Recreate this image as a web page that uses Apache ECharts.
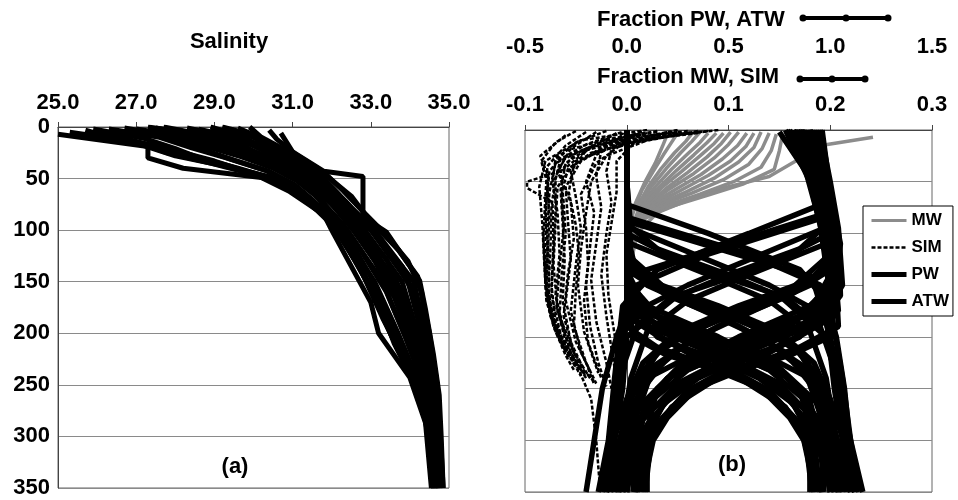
<!DOCTYPE html>
<html lang="en">
<head>
  <meta charset="UTF-8">
  <title>Salinity and water fractions</title>
  <script src="https://cdn.jsdelivr.net/npm/echarts@6/dist/echarts.min.js"></script>
  <style>
    html, body { margin: 0; padding: 0; background: #fff; }
    #chart { width: 958px; height: 500px; }
  </style>
</head>
<body>
<div id="chart"></div>
<script>
  // depth ticks shared by both panels (m)
  let depthTicks = [0, 50, 100, 150, 200, 250, 300, 350];
  let fractionNames = ['MW', 'SIM', 'PW', 'ATW'];

  // (a) salinity profiles, pairs of [salinity, depth]
  let salinityProfiles = [
    [[25.0,7],[27.3,19],[27.3,30],[28.2,40],[30.2,49],[30.9,62],[31.8,85],[32.0,100],[33.0,170],[33.2,200],[34.0,243],[34.4,287],[34.55,350]],
    [[25.7,3],[26.5,12],[27.2,18],[28.0,28],[29.3,38],[30.6,50],[31.3,68],[31.9,88],[32.3,110],[32.9,150],[33.5,200],[34.15,250],[34.5,300],[34.6,350]],
    [[26.3,2],[27.6,10],[28.4,20],[29.3,30],[30.3,42],[31.0,55],[31.6,75],[32.2,100],[33.1,150],[33.7,200],[34.25,250],[34.55,300],[34.65,350]],
    [[27.0,2],[28.3,10],[29.2,20],[30.0,30],[30.8,42],[31.3,55],[31.8,75],[32.4,100],[33.3,150],[33.85,200],[34.35,250],[34.6,300],[34.68,350]],
    [[27.7,0],[28.8,8],[29.7,18],[30.4,30],[31.0,42],[31.5,55],[32.0,75],[32.55,100],[33.5,150],[34.0,200],[34.4,250],[34.62,300],[34.7,350]],
    [[28.3,1],[29.2,8],[30.0,18],[30.7,30],[31.2,42],[31.6,55],[32.1,75],[32.7,100],[33.65,150],[34.1,200],[34.45,250],[34.65,300],[34.72,350]],
    [[28.9,0],[29.6,8],[30.3,20],[30.9,32],[31.4,45],[31.8,58],[32.25,75],[32.85,100],[33.8,150],[34.2,200],[34.5,250],[34.68,300],[34.75,350]],
    [[29.4,2],[30.0,10],[30.6,22],[31.1,34],[31.5,45],[31.9,58],[32.4,78],[33.0,100],[33.95,150],[34.3,200],[34.55,250],[34.7,300],[34.78,350]],
    [[29.9,0],[30.2,10],[30.8,22],[31.3,35],[31.7,46],[32.0,58],[32.5,78],[33.1,100],[34.1,150],[34.4,200],[34.6,250],[34.72,300],[34.8,350]],
    [[30.0,4],[30.2,14],[30.9,24],[31.7,42],[32.5,67],[32.9,87],[33.7,119],[34.2,145],[34.5,200],[34.7,250],[34.78,300],[34.85,350]],
    [[30.7,6],[31.0,24],[31.8,43],[32.8,48],[32.8,87],[33.4,102],[34.25,149],[34.4,177],[34.6,220],[34.75,260],[34.8,300],[34.85,350]],
    [[28.0,3],[29.0,12],[29.9,24],[30.6,36],[31.2,50],[31.7,65],[32.3,85],[32.6,100],[33.2,130],[33.55,150],[33.95,190],[34.35,235],[34.55,280],[34.65,350]],
    [[29.0,3],[29.8,14],[30.5,28],[31.1,40],[31.6,52],[32.0,68],[32.5,88],[32.95,110],[33.75,160],[34.15,210],[34.5,260],[34.68,310],[34.74,350]],
    [[26.0,5],[27.0,14],[28.1,24],[29.0,33],[29.9,44],[30.8,54],[31.4,70],[32.05,95],[32.6,130],[33.2,170],[33.6,210],[34.2,255],[34.5,300],[34.6,350]],
    [[25.3,5],[26.0,9],[27.1,16],[27.8,25],[28.9,35],[30.0,46],[31.0,60],[31.6,80],[32.15,100],[32.8,140],[33.35,180],[33.8,220],[34.3,262],[34.52,300],[34.6,350]],
    [[26.7,1],[27.9,9],[28.8,19],[29.7,29],[30.5,40],[31.1,52],[31.7,70],[32.3,95],[32.75,120],[33.4,160],[33.9,205],[34.3,245],[34.58,290],[34.66,350]],
    [[27.3,0],[28.6,7],[29.5,18],[30.3,29],[31.0,40],[31.5,53],[32.0,72],[32.5,97],[33.1,130],[33.6,165],[34.05,210],[34.42,255],[34.62,300],[34.7,350]],
    [[28.6,2],[29.4,9],[30.1,19],[30.8,31],[31.3,43],[31.75,57],[32.2,75],[32.75,98],[33.4,128],[33.9,170],[34.25,215],[34.52,262],[34.68,305],[34.74,350]],
    [[29.6,1],[30.1,9],[30.7,21],[31.2,34],[31.6,45],[32.0,60],[32.55,82],[33.2,108],[33.8,135],[34.2,170],[34.45,215],[34.65,265],[34.75,310],[34.8,350]],
    [[30.4,3],[30.6,12],[31.1,27],[31.8,44],[32.3,62],[32.8,82],[33.4,105],[33.95,130],[34.3,160],[34.5,210],[34.68,260],[34.76,300],[34.82,350]],
    [[25.9,2],[27.2,11],[28.0,21],[28.6,30],[29.6,40],[30.5,50],[31.2,65],[31.7,80],[32.1,100],[32.7,135],[33.3,185],[33.9,230],[34.35,275],[34.56,320],[34.62,350]],
    [[27.5,1],[28.1,5],[28.9,14],[29.8,25],[30.6,37],[31.3,50],[31.85,66],[32.35,88],[32.9,115],[33.55,145],[34.0,185],[34.35,228],[34.58,275],[34.7,330],[34.72,350]],
    [[26.9,3],[28.0,12],[28.7,22],[29.5,32],[30.4,43],[31.05,56],[31.55,72],[32.15,92],[32.55,115],[33.0,145],[33.45,190],[34.1,240],[34.45,285],[34.62,350]],
    [[29.2,0],[29.9,7],[30.5,18],[31.0,30],[31.45,42],[31.9,56],[32.35,72],[32.9,95],[33.55,125],[34.05,158],[34.35,200],[34.58,245],[34.72,295],[34.78,350]]
  ];

  // (b) meteoric water fraction, [fraction, depth]
  let mwProfiles = [
    [[0.242,7],[0.197,14],[0.175,25],[0.14,45],[0.08,60],[0.03,80],[0.01,100],[0.0,150]],
    [[0.153,5],[0.15,20],[0.145,38],[0.115,52],[0.08,63],[0.04,75],[0.013,88],[0.004,110],[0.0,150]],
    [[0.147,4],[0.142,20],[0.132,36],[0.105,50],[0.072,62],[0.036,74],[0.012,87],[0.003,115]],
    [[0.14,3],[0.133,18],[0.12,33],[0.095,48],[0.064,61],[0.032,73],[0.01,88],[0.003,120]],
    [[0.132,2],[0.125,17],[0.11,31],[0.087,46],[0.058,60],[0.028,73],[0.009,90]],
    [[0.125,3],[0.117,16],[0.102,30],[0.08,44],[0.052,59],[0.025,73],[0.008,92]],
    [[0.118,3],[0.109,15],[0.094,28],[0.073,43],[0.047,58],[0.022,73],[0.007,94]],
    [[0.11,2],[0.1,14],[0.086,27],[0.066,42],[0.042,57],[0.02,73],[0.006,95]],
    [[0.102,2],[0.093,13],[0.079,26],[0.06,41],[0.038,57],[0.018,74],[0.005,98]],
    [[0.095,3],[0.086,13],[0.072,25],[0.054,40],[0.034,56],[0.016,74],[0.005,100]],
    [[0.088,3],[0.079,12],[0.066,24],[0.049,39],[0.031,56],[0.014,75],[0.004,100]],
    [[0.08,3],[0.072,12],[0.06,23],[0.044,38],[0.028,55],[0.012,75],[0.004,100]],
    [[0.072,2],[0.064,11],[0.053,22],[0.039,37],[0.024,55],[0.01,76]],
    [[0.065,2],[0.058,11],[0.047,22],[0.034,37],[0.021,55],[0.009,77]],
    [[0.05,3],[0.044,12],[0.036,24],[0.026,40],[0.015,58],[0.006,80]],
    [[0.04,4],[0.035,16],[0.028,32],[0.018,50],[0.008,72],[0.003,95]]
  ];

  // (b) sea ice melt fraction, [fraction, depth]
  let simProfiles = [
    [[0.06,1],[0.0,8],[-0.04,18],[-0.07,32],[-0.076,60],[-0.078,100],[-0.079,150],[-0.07,190],[-0.05,225],[-0.035,260],[-0.03,300],[-0.026,350]],
    [[0.03,2],[-0.03,12],[-0.063,39],[-0.098,50],[-0.098,56],[-0.073,70],[-0.072,110],[-0.074,160],[-0.063,206],[-0.043,232],[-0.03,245]],
    [[0.09,0],[0.04,6],[-0.01,15],[-0.05,30],[-0.068,55],[-0.07,90],[-0.072,130],[-0.068,175],[-0.055,215],[-0.04,240]],
    [[-0.02,1],[-0.05,12],[-0.07,28],[-0.073,50],[-0.068,80],[-0.066,120],[-0.07,160],[-0.06,200],[-0.045,228]],
    [[0.02,3],[-0.02,14],[-0.045,30],[-0.06,55],[-0.058,85],[-0.055,125],[-0.06,165],[-0.05,205],[-0.035,235]],
    [[0.07,1],[0.02,10],[-0.02,25],[-0.035,50],[-0.04,80],[-0.045,115],[-0.048,150],[-0.042,195],[-0.028,235]],
    [[-0.04,2],[-0.06,15],[-0.078,35],[-0.08,65],[-0.082,105],[-0.08,145],[-0.074,180],[-0.06,215]],
    [[0.0,2],[-0.025,20],[-0.03,45],[-0.025,75],[-0.03,110],[-0.035,145],[-0.03,185],[-0.02,225],[-0.015,250]],
    [[0.05,0],[-0.01,12],[-0.05,22],[-0.065,40],[-0.062,70],[-0.06,100],[-0.064,140],[-0.066,180],[-0.05,220]],
    [[-0.01,3],[-0.04,20],[-0.055,40],[-0.05,65],[-0.045,95],[-0.05,130],[-0.055,175],[-0.045,215],[-0.03,245]],
    [[0.04,2],[-0.015,18],[-0.02,40],[-0.015,70],[-0.02,100],[-0.025,140],[-0.02,180],[-0.012,230]],
    [[-0.06,5],[-0.085,25],[-0.077,45],[-0.08,80],[-0.077,120],[-0.076,170],[-0.066,200],[-0.05,230]],
    [[0.08,1],[0.03,6],[-0.03,14],[-0.06,26],[-0.07,45],[-0.074,75],[-0.075,115],[-0.077,155],[-0.072,185],[-0.058,215],[-0.04,238]],
    [[0.015,2],[-0.035,16],[-0.06,32],[-0.065,58],[-0.063,90],[-0.061,125],[-0.063,165],[-0.055,205],[-0.042,232]],
    [[-0.03,2],[-0.055,18],[-0.068,40],[-0.055,70],[-0.052,105],[-0.058,140],[-0.062,180],[-0.052,215],[-0.036,240]],
    [[0.05,2],[-0.005,14],[-0.03,32],[-0.045,62],[-0.04,95],[-0.038,130],[-0.042,165],[-0.038,205],[-0.025,240]],
    [[0.02,0],[-0.045,10],[-0.08,30],[-0.086,55],[-0.083,90],[-0.081,130],[-0.079,165],[-0.07,195],[-0.056,222]],
    [[0.07,3],[0.01,10],[-0.01,30],[-0.01,60],[-0.015,90],[-0.02,120],[-0.018,160],[-0.01,210]],
    [[0.03,1],[-0.02,9],[-0.06,20],[-0.076,40],[-0.079,70],[-0.08,110],[-0.08,150],[-0.075,180],[-0.065,205],[-0.048,230]],
    [[-0.005,2],[-0.04,14],[-0.065,28],[-0.07,48],[-0.07,78],[-0.072,115],[-0.074,150],[-0.07,185],[-0.058,215],[-0.045,238]],
    [[0.06,3],[0.01,12],[-0.035,22],[-0.058,38],[-0.064,62],[-0.062,95],[-0.066,132],[-0.069,170],[-0.06,205],[-0.047,232]],
    [[-0.05,1],[-0.07,12],[-0.084,30],[-0.078,52],[-0.076,85],[-0.078,125],[-0.079,160],[-0.072,190],[-0.06,218],[-0.052,232]],
    [[0.01,4],[-0.03,24],[-0.04,50],[-0.032,80],[-0.036,112],[-0.04,150],[-0.036,190],[-0.028,225],[-0.02,248]],
    [[0.045,2],[-0.02,16],[-0.052,34],[-0.057,60],[-0.05,92],[-0.047,120],[-0.05,155],[-0.052,190],[-0.04,225],[-0.032,246]]
  ];

  // (b) Pacific water fraction, [fraction, depth]
  let pwProfiles = [
    [[0.95,0],[0.97,40],[0.99,80],[0.02,140],[-0.03,200],[-0.05,250],[-0.08,300],[-0.1,350]],
    [[0.88,2],[0.95,50],[0.97,95],[0.3,150],[0.0,180],[-0.04,250],[-0.06,300],[-0.08,350]],
    [[0.9,2],[0.98,60],[1.0,100],[0.7,130],[0.25,160],[0.0,200],[-0.02,250],[-0.1,350]],
    [[0.8,0],[0.93,45],[0.96,85],[0.4,120],[0.05,150],[-0.05,200],[-0.12,250],[-0.2,350]],
    [[0.84,0],[0.94,40],[0.98,70],[0.6,100],[0.15,135],[-0.02,170],[-0.06,240],[-0.09,300],[-0.14,350]],
    [[0.85,0],[0.93,50],[0.98,100],[1.0,150],[0.95,185],[0.75,210],[0.5,237],[0.34,250],[0.2,278],[0.13,300],[0.1,327],[0.1,350]],
    [[0.78,0],[0.9,50],[0.96,100],[1.0,150],[0.8,190],[0.5,220],[0.25,245],[0.08,280],[0.02,320],[0.0,350]],
    [[0.92,0],[0.97,50],[1.02,100],[1.03,150],[0.9,170],[0.55,200],[0.25,230],[0.05,270],[-0.02,320],[-0.05,350]],
    [[0.75,2],[0.88,40],[0.95,90],[1.0,160],[0.85,200],[0.55,225],[0.3,252],[0.12,290],[0.04,350]],
    [[0.96,0],[1.0,60],[1.05,110],[1.02,165],[0.7,195],[0.35,215],[0.1,240],[0.0,290],[-0.06,350]],
    [[0.9,0],[0.96,45],[1.0,120],[0.8,155],[0.5,180],[0.2,205],[0.05,240],[-0.03,300],[-0.08,350]],
    [[0.82,0],[0.92,50],[0.97,100],[1.0,140],[0.9,175],[0.6,205],[0.3,232],[0.12,262],[0.03,300],[-0.02,350]],
    [[0.88,0],[0.94,60],[0.99,110],[1.02,180],[0.8,205],[0.55,222],[0.35,240],[0.18,265],[0.08,300],[0.05,350]],
    [[0.86,0],[0.95,40],[1.0,90],[1.03,130],[0.75,160],[0.4,185],[0.15,215],[0.02,260],[-0.05,310],[-0.1,350]],
    [[0.93,0],[0.97,55],[1.01,105],[1.04,175],[0.7,200],[0.45,225],[0.25,250],[0.1,285],[0.02,330],[0.0,350]],
    [[0.8,2],[0.9,30],[0.96,80],[1.0,125],[0.9,150],[0.62,175],[0.35,200],[0.12,230],[0.0,280],[-0.04,350]],
    [[0.87,0],[0.95,50],[1.0,110],[1.01,170],[0.8,195],[0.5,215],[0.2,240],[0.08,270],[0.06,310],[0.05,350]],
    [[0.91,0],[0.96,50],[1.01,100],[0.95,140],[0.7,165],[0.45,190],[0.22,215],[0.08,250],[0.02,300],[-0.02,350]],
    [[0.83,0],[0.92,40],[0.98,95],[1.02,150],[1.0,200],[0.8,218],[0.5,235],[0.3,252],[0.15,285],[0.08,320],[0.07,350]],
    [[0.89,0],[0.97,60],[1.03,120],[0.9,145],[0.55,170],[0.25,195],[0.08,225],[0.0,260],[-0.08,310],[-0.12,350]],
    [[0.94,0],[0.99,50],[1.04,100],[1.05,160],[0.95,185],[0.65,210],[0.38,232],[0.2,258],[0.1,295],[0.08,350]],
    [[0.79,0],[0.89,35],[0.95,75],[0.98,110],[0.6,140],[0.3,165],[0.1,195],[0.02,240],[-0.03,300],[-0.06,350]],
    [[0.86,0],[0.93,45],[0.99,95],[1.02,150],[0.88,178],[0.6,200],[0.3,225],[0.15,250],[0.1,290],[0.09,350]],
    [[0.9,0],[0.97,50],[0.99,90],[0.85,115],[0.5,140],[0.2,165],[0.05,190],[-0.02,230],[-0.07,290],[-0.11,350]],
    [[0.85,0],[0.94,50],[1.0,105],[1.03,160],[0.85,180],[0.6,198],[0.4,215],[0.2,240],[0.06,280],[-0.04,350]],
    [[0.9,0],[0.96,55],[1.02,115],[1.04,190],[0.85,210],[0.6,228],[0.42,243],[0.22,268],[0.12,300],[0.09,350]],
    [[0.82,0],[0.91,45],[0.97,100],[1.0,135],[0.8,160],[0.55,180],[0.3,205],[0.12,235],[0.04,280],[0.0,350]],
    [[0.95,0],[1.0,50],[1.04,95],[1.06,150],[1.0,170],[0.72,192],[0.45,212],[0.25,232],[0.1,262],[0.05,300],[0.03,350]]
  ];

  // (b) Atlantic water fraction, [fraction, depth]
  let atwProfiles = [
    [[0,0],[0,40],[0,88],[0.91,142],[1.0,200],[1.05,250],[1.1,300],[1.16,350]],
    [[0,2],[0,50],[0.02,95],[0.7,150],[0.98,180],[1.02,250],[1.06,300],[1.08,350]],
    [[0,2],[0,60],[0,100],[0.3,130],[0.75,160],[0.98,200],[1.04,250],[1.1,350]],
    [[0,0],[0,45],[0.01,85],[0.6,120],[0.95,150],[1.03,200],[1.07,250],[1.12,350]],
    [[0,0],[0,40],[0,72],[0.4,100],[0.85,135],[1.0,170],[1.06,240],[1.1,300],[1.14,350]],
    [[0,0],[0,50],[0,100],[0,150],[0.05,185],[0.25,210],[0.5,237],[0.66,250],[0.8,278],[0.87,300],[0.9,327],[0.9,350]],
    [[0,0],[0,50],[0,100],[0.02,150],[0.2,190],[0.5,220],[0.75,245],[0.92,280],[0.97,320],[1.0,350]],
    [[0,0],[0,50],[0,100],[0,150],[0.1,170],[0.45,200],[0.75,230],[0.97,270],[1.02,320],[1.05,350]],
    [[0,2],[0,40],[0,90],[0,160],[0.15,200],[0.45,225],[0.7,252],[0.88,290],[0.96,350]],
    [[0,0],[0,60],[0,110],[0,165],[0.3,195],[0.65,215],[0.9,240],[1.0,290],[1.06,350]],
    [[0,0],[0,45],[0,120],[0.2,155],[0.5,180],[0.8,205],[0.95,240],[1.02,300],[1.1,350]],
    [[0,0],[0,50],[0,100],[0.01,140],[0.1,175],[0.4,205],[0.7,232],[0.88,262],[0.97,300],[1.02,350]],
    [[0,0],[0,60],[0,110],[0,180],[0.2,205],[0.45,222],[0.65,240],[0.82,265],[0.92,300],[0.95,350]],
    [[0,0],[0,40],[0,90],[0,130],[0.25,160],[0.6,185],[0.85,215],[0.98,260],[1.05,310],[1.12,350]],
    [[0,0],[0,55],[0,105],[0,175],[0.3,200],[0.55,225],[0.75,250],[0.9,285],[0.98,330],[1.0,350]],
    [[0,2],[0,30],[0,80],[0,125],[0.1,150],[0.38,175],[0.65,200],[0.88,230],[1.0,280],[1.04,350]],
    [[0,0],[0,50],[0,110],[0.02,170],[0.2,195],[0.5,215],[0.8,240],[0.9,270],[0.92,310],[0.93,350]],
    [[0,0],[0,50],[0,100],[0.05,140],[0.3,165],[0.55,190],[0.78,215],[0.92,250],[0.98,300],[1.02,350]],
    [[0,0],[0,40],[0,95],[0,150],[0.03,200],[0.2,218],[0.5,235],[0.7,252],[0.85,285],[0.9,320],[0.92,350]],
    [[0,0],[0,60],[0,120],[0.1,145],[0.45,170],[0.75,195],[0.92,225],[1.0,260],[1.08,310],[1.12,350]],
    [[0,0],[0,50],[0,100],[0,160],[0.05,185],[0.35,210],[0.62,232],[0.8,258],[0.9,295],[0.92,350]],
    [[0,0],[0,35],[0,75],[0.02,110],[0.4,140],[0.7,165],[0.9,195],[0.98,240],[1.03,300],[1.06,350]],
    [[0,0],[0,45],[0,95],[0,150],[0.12,178],[0.4,200],[0.7,225],[0.85,250],[0.9,290],[0.91,350]],
    [[0,0],[0,50],[0,90],[0.15,115],[0.5,140],[0.8,165],[0.95,190],[1.02,230],[1.07,290],[1.1,350]],
    [[0,0],[0,50],[0,105],[0,160],[0.15,180],[0.4,198],[0.6,215],[0.8,240],[0.94,280],[1.04,350]],
    [[0,0],[0,55],[0,115],[0,190],[0.15,210],[0.4,228],[0.58,243],[0.78,268],[0.88,300],[0.91,350]],
    [[0,0],[0,45],[0,100],[0,135],[0.2,160],[0.45,180],[0.7,205],[0.88,235],[0.96,280],[1.0,350]],
    [[0,0],[0,50],[0,95],[0,150],[0.02,170],[0.28,192],[0.55,212],[0.75,232],[0.9,262],[0.95,300],[0.97,350]]
  ];

  let FONT = "'Liberation Sans', Arial, sans-serif";

  function profileSeries(name, profiles, xIdx, yIdx, lineStyle) {
    let out = [];
    for (let i = 0; i < profiles.length; i++) {
      out.push({
        name: name,
        type: 'line',
        xAxisIndex: xIdx,
        yAxisIndex: yIdx,
        data: profiles[i],
        symbol: 'none',
        showSymbol: false,
        silent: true,
        // only the line shows in the legend key, not a dot
        itemStyle: {color: lineStyle.color, opacity: 0},
        lineStyle: lineStyle
      });
    }
    return out;
  }

  function echartInit() {
    let myChart = echarts.init(document.getElementById('chart'));

    let labelStyle = {fontSize: 22, fontWeight: 'bold', color: '#000', fontFamily: FONT};
    let fmt1 = function (v) { return Number(v).toFixed(1); };

    let mwStyle = {color: '#8c8c8c', width: 3.5};
    let simStyle = {color: '#000', width: 2.5, type: [4, 2]};
    let pwStyle = {color: '#000', width: 5.5};
    let atwStyle = {color: '#000', width: 5.5};

    let series = []
      .concat(profileSeries('Salinity', salinityProfiles, 0, 0, {color: '#000', width: 5}))
      .concat(profileSeries('MW', mwProfiles, 1, 1, mwStyle))
      .concat(profileSeries('SIM', simProfiles, 1, 1, simStyle))
      .concat(profileSeries('PW', pwProfiles, 2, 1, pwStyle))
      .concat(profileSeries('ATW', atwProfiles, 2, 1, atwStyle));

    let legendKeys = [
      {name: fractionNames[0], lineStyle: {width: 3, color: '#8c8c8c'}},
      {name: fractionNames[1], lineStyle: {width: 2.5, color: '#000', type: [4, 2]}},
      {name: fractionNames[2], lineStyle: {width: 5, color: '#000'}},
      {name: fractionNames[3], lineStyle: {width: 5, color: '#000'}}
    ];

    let option = {
      animation: false,
      backgroundColor: '#fff',
      grid: [
        {left: 58, top: 127, width: 391, height: 361, show: true, borderColor: '#666', borderWidth: 1, backgroundColor: 'transparent'},
        {left: 525, top: 130, width: 407, height: 362, show: true, borderColor: '#666', borderWidth: 1, backgroundColor: 'transparent'}
      ],
      xAxis: [
        {
          gridIndex: 0, type: 'value', position: 'top',
          min: 25, max: 35, interval: 2,
          axisLine: {lineStyle: {color: '#444', width: 1}},
          axisTick: {show: true, length: 5, lineStyle: {color: '#444'}},
          splitLine: {show: false},
          axisLabel: Object.assign({margin: 13, formatter: fmt1}, labelStyle)
        },
        {
          gridIndex: 1, type: 'value', position: 'top',
          min: -0.1, max: 0.3, interval: 0.1,
          axisLine: {lineStyle: {color: '#444', width: 1}},
          axisTick: {show: true, length: 5, lineStyle: {color: '#444'}},
          splitLine: {show: false},
          axisLabel: Object.assign({margin: 14, formatter: fmt1}, labelStyle)
        },
        {
          gridIndex: 1, type: 'value', position: 'top', offset: 60,
          min: -0.5, max: 1.5, interval: 0.5,
          axisLine: {show: false},
          axisTick: {show: false},
          splitLine: {show: false},
          axisLabel: Object.assign({margin: 12, formatter: fmt1}, labelStyle)
        }
      ],
      yAxis: [
        {
          gridIndex: 0, type: 'value', inverse: true,
          min: depthTicks[0], max: depthTicks[depthTicks.length - 1], interval: 50,
          axisLine: {lineStyle: {color: '#444', width: 1}},
          axisTick: {show: false},
          splitLine: {show: true, lineStyle: {color: '#8a8a8a', width: 1}},
          axisLabel: Object.assign({margin: 8}, labelStyle)
        },
        {
          gridIndex: 1, type: 'value', inverse: true,
          min: depthTicks[0], max: depthTicks[depthTicks.length - 1], interval: 50,
          axisLine: {lineStyle: {color: '#444', width: 1}},
          axisTick: {show: false},
          splitLine: {show: true, lineStyle: {color: '#8a8a8a', width: 1}},
          axisLabel: {show: false}
        }
      ],
      legend: {
        data: legendKeys,
        orient: 'vertical',
        left: 863, top: 206,
        backgroundColor: '#fff',
        borderColor: '#000', borderWidth: 1,
        borderRadius: 0,
        padding: [6, 4, 6, 6],
        itemWidth: 35, itemHeight: 14, itemGap: 10,
        selectedMode: false,
        textStyle: {fontSize: 17, fontWeight: 'bold', color: '#000', fontFamily: FONT}
      },
      graphic: [
        {type: 'text', x: 229, y: 42, style: {text: 'Salinity', font: 'bold 22px ' + FONT, fill: '#000', align: 'center', verticalAlign: 'middle'}},
        {type: 'text', x: 597, y: 20, style: {text: 'Fraction PW, ATW', font: 'bold 22px ' + FONT, fill: '#000', align: 'left', verticalAlign: 'middle'}},
        {type: 'line', shape: {x1: 803, y1: 18, x2: 888, y2: 18}, style: {stroke: '#000', lineWidth: 4}},
        {type: 'circle', shape: {cx: 803, cy: 18, r: 3.5}, style: {fill: '#000'}},
        {type: 'circle', shape: {cx: 846, cy: 18, r: 3.5}, style: {fill: '#000'}},
        {type: 'circle', shape: {cx: 888, cy: 18, r: 3.5}, style: {fill: '#000'}},
        {type: 'text', x: 597, y: 77, style: {text: 'Fraction MW, SIM', font: 'bold 22px ' + FONT, fill: '#000', align: 'left', verticalAlign: 'middle'}},
        {type: 'line', shape: {x1: 800, y1: 79, x2: 865, y2: 79}, style: {stroke: '#000', lineWidth: 4}},
        {type: 'circle', shape: {cx: 800, cy: 79, r: 3.5}, style: {fill: '#000'}},
        {type: 'circle', shape: {cx: 832, cy: 79, r: 3.5}, style: {fill: '#000'}},
        {type: 'circle', shape: {cx: 865, cy: 79, r: 3.5}, style: {fill: '#000'}},
        {type: 'text', x: 235, y: 467, style: {text: '(a)', font: 'bold 22px ' + FONT, fill: '#000', align: 'center', verticalAlign: 'middle'}},
        {type: 'text', x: 732, y: 465, style: {text: '(b)', font: 'bold 22px ' + FONT, fill: '#000', align: 'center', verticalAlign: 'middle'}}
      ],
      series: series
    };
    myChart.setOption(option, true);
    window.addEventListener('resize', function () {
      myChart.resize();
    });
  }

  echartInit();
</script>
</body>
</html>
